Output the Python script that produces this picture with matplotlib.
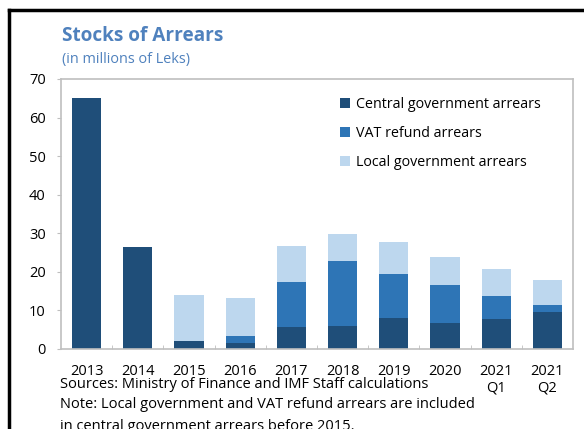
import numpy as np
import matplotlib
matplotlib.use("Agg")
import matplotlib.pyplot as plt
from matplotlib.lines import Line2D

plt.rcParams['font.family'] = ['Open Sans', 'DejaVu Sans']

# ── Datos ────────────────────────────────────────────────────────────────────
periods = ["2013", "2014", "2015", "2016", "2017", "2018", "2019", "2020",
           "2021\nQ1", "2021\nQ2"]
central = [65.2, 26.5, 2.2, 1.5, 5.6, 5.9, 8.1, 6.8, 7.8, 9.7]
vat     = [0.0, 0.0, 0.0, 2.0, 11.7, 17.0, 11.4, 9.8, 5.9, 1.6]
local   = [0.0, 0.0, 11.8, 9.6, 9.3, 6.9, 8.2, 7.2, 7.0, 6.7]

c_central, c_vat, c_local = "#1F4E79", "#2E75B6", "#BDD7EE"
frame_col = "#BFBFBF"

fig = plt.figure(figsize=(5.84, 4.29), dpi=100)
ax = fig.add_axes([61/584, 1 - 349/429, 512/584, 270/429])

x = np.arange(len(periods))
w = 0.57
central = np.array(central); vat = np.array(vat); local = np.array(local)
ax.bar(x, central, w, color=c_central, label="Central government arrears")
ax.bar(x, vat, w, bottom=central, color=c_vat, label="VAT refund arrears")
ax.bar(x, local, w, bottom=central + vat, color=c_local,
       label="Local government arrears")

ax.set_xlim(-0.5, len(periods) - 0.5)
ax.set_ylim(0, 70)
ax.set_yticks(range(0, 71, 10))
ax.set_xticks(x)
ax.set_xticklabels(periods, fontsize=10.5, linespacing=1.2)
ax.set_xticks(np.arange(0.5, len(periods) - 1, 1), minor=True)
ax.tick_params(axis="x", which="major", length=0, pad=10.6)
ax.tick_params(axis="x", which="minor", length=3, direction="in", color=frame_col)
ax.tick_params(axis="y", length=3, color=frame_col, labelsize=10.5, pad=8)
for s in ax.spines.values():
    s.set_color(frame_col)
    s.set_linewidth(1.2)

leg = ax.legend(loc="upper left", bbox_to_anchor=(0.52, 0.98), frameon=False,
                fontsize=10.3, handlelength=0.7, handleheight=0.7,
                handletextpad=0.4, labelspacing=0.96)

# ── Textos ───────────────────────────────────────────────────────────────────
fig.text(62/584, 1 - 36/429, "Stocks of Arrears", fontsize=13.7,
         fontweight="bold", color="#4F81BD", va="center")
fig.text(62/584, 1 - 59/429, "(in millions of Leks)", fontsize=10.4,
         color="#4F81BD", va="center")
fig.text(60/584, 1 - 384/429, "Sources: Ministry of Finance and IMF Staff calculations",
         fontsize=10.5, va="center")
fig.text(60/584, 1 - 405/429,
         "Note: Local government and VAT refund arrears are included",
         fontsize=10.5, va="center")
fig.text(60/584, 1 - 427/429, "in central government arrears before 2015.",
         fontsize=10.5, va="center")

# marco negro
fig.add_artist(Line2D([9/584, 9/584], [0, 1 - 10/429], color="black", lw=2.5,
                      transform=fig.transFigure))
fig.add_artist(Line2D([9/584, 1], [1 - 10/429, 1 - 10/429], color="black", lw=2.5,
                      transform=fig.transFigure))

fig.savefig("out.png", dpi=100)
